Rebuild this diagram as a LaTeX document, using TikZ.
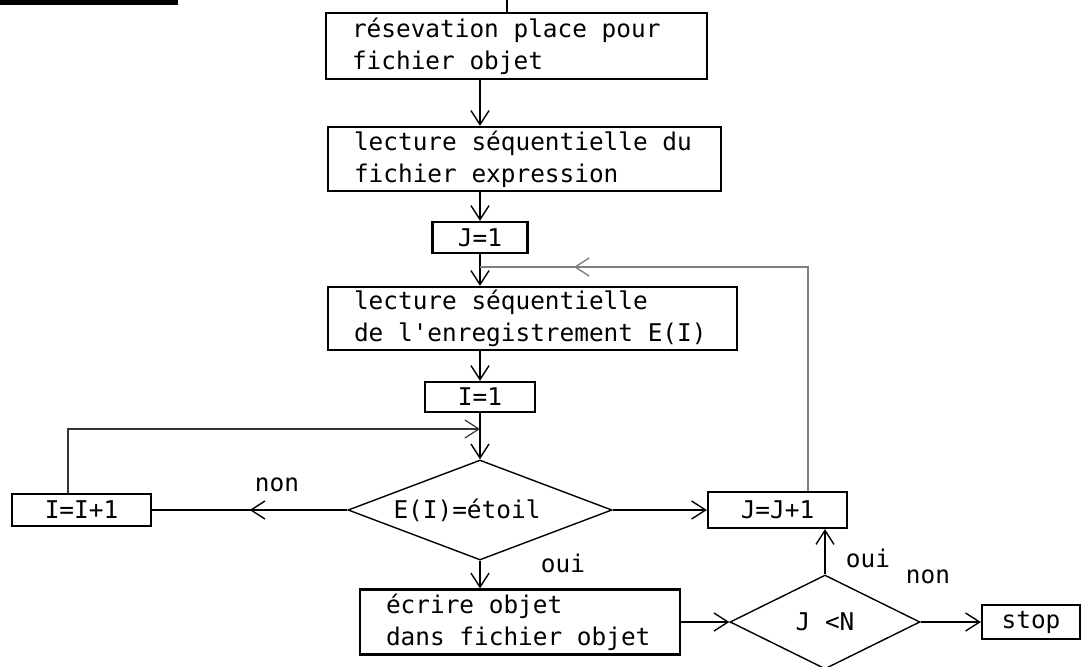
\documentclass[tikz,border=0pt]{standalone}
\usepackage{fontspec}
\setmonofont{DejaVu Sans Mono}
\usetikzlibrary{
	arrows.meta,
	shapes.geometric,
	decorations.markings
}
\newcommand{\flowfont}{\fontsize{12.2}{16}\selectfont\ttfamily}
\tikzset{
	box/.style={draw, line width=1.1pt, font=\flowfont, inner xsep=13pt, inner ysep=1pt, align=flush left},
	smallbox/.style={draw, line width=1.1pt, font=\flowfont, inner sep=0pt},
	test/.style={draw, diamond, line width=0.7pt, font=\flowfont, inner sep=0pt},
	flow/.style={line width=0.7pt, -{Straight Barb[length=7pt,width=9pt]}},
	midflow/.style={line width=0.7pt, postaction={decorate},
		decoration={markings, mark=at position #1 with {\arrow{Straight Barb[length=7pt,width=9pt]}}}},
	lbl/.style={font=\flowfont}
}

\begin{document}
\begin{tikzpicture}[x=0.5pt, y=-0.5pt]
		\useasboundingbox (0,0) rectangle (1083,666);
		
		% reste de la page precedente
		\draw[line width=3pt] (0,2) -- (178,2);
		
		% blocs
		\coordinate (top) at (507,0);
		\node[box, text width=164.5pt, minimum height=33pt] (res) at (516.5,46) {résevation place pour\\fichier objet};
		\node[box, text width=170.5pt, minimum height=32pt] (lect1) at (524.5,159) {lecture séquentielle du\\fichier expression};
		\node[smallbox, minimum width=47.5pt, minimum height=15.5pt] (jone) at (480,237.5) {J=1};
		\node[box, text width=178.5pt, minimum height=31.5pt] (lect2) at (532.5,318.5) {lecture séquentielle\\de l'enregistrement E(I)};
		\node[smallbox, minimum width=55pt, minimum height=15pt] (ione) at (480,397) {I=1};
		\node[test, aspect=2.64, minimum width=132pt, minimum height=50pt] (test) at (480,510) {E(I)=étoil\rule{13pt}{0pt}};
		\node[smallbox, minimum width=69.5pt, minimum height=16pt] (iinc) at (81.5,510) {I=I+1};
		\node[smallbox, minimum width=69.5pt, minimum height=18pt] (jinc) at (777.5,510) {J=J+1};
		\node[box, text width=134pt, minimum height=32.5pt] (write) at (520,622) {écrire objet\\dans fichier objet};
		\node[test, aspect=2, minimum width=95pt, minimum height=47pt] (jn) at (825,622) {J <N};
		\node[smallbox, minimum width=49pt, minimum height=17pt] (stop) at (1031,622) {stop};
		
		% points de jonction des boucles
		\coordinate (jmerge) at (480,267);
		\coordinate (imerge) at (480,429);
		
		% enchainement principal
		\draw[line width=0.7pt] (top) -- (top |- res.north);
		\draw[flow] (res.south -| jone) -- (lect1.north -| jone);
		\draw[flow] (lect1.south -| jone) -- (jone.north);
		\draw[flow] (jone.south) -- (lect2.north -| jone);
		\draw[flow] (lect2.south -| ione) -- (ione.north);
		\draw[flow] (ione.south) -- (test.north);
		
		% branche non : I=I+1
		\draw[midflow=0.5] (test.west) -- (iinc.east);
		\node[lbl] (non1) at (277,485) {non};
		\draw[line width=0.6pt, black!80, -{Straight Barb[length=7pt,width=9pt]}] ([xshift=-6.75pt]iinc.north) |- (imerge);
		
		% branche oui : ecriture
		\draw[flow] (test.east) -- (jinc.west);
		\draw[flow] (test.south) -- (test.south |- write.north);
		\node[lbl] (oui1) at (563,563) {oui};
		\draw[flow] (write.east) -- (jn.west);
		
		% test J<N
		\draw[flow] (jn.north) -- (jn.north |- jinc.south);
		\node[lbl] (oui2) at (868,558) {oui};
		\node[lbl] (non2) at (928,577) {non};
		\draw[flow] (jn.east) -- (stop.west);
		
		% retour J=J+1
		\draw[midflow=0.83, gray] ([xshift=15.25pt]jinc.north) |- (jmerge);
	\end{tikzpicture}
\end{document}
